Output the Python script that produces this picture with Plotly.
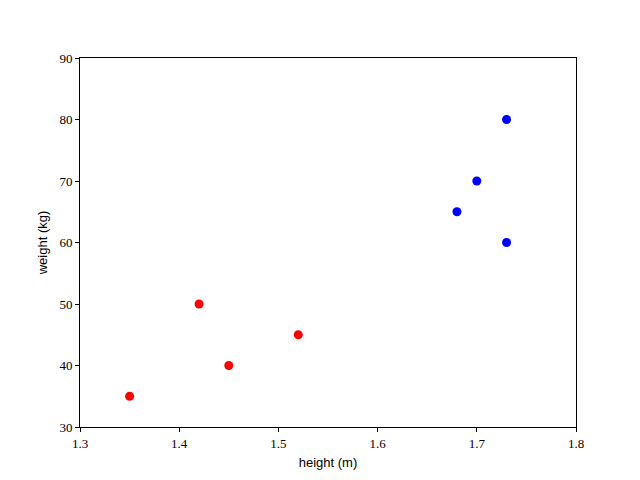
import plotly.graph_objects as go

red_height = [1.35, 1.42, 1.45, 1.52]
red_weight = [35, 50, 40, 45]
blue_height = [1.68, 1.70, 1.73, 1.73]
blue_weight = [65, 70, 80, 60]
x_ticks = [1.3, 1.4, 1.5, 1.6, 1.7, 1.8]
y_ticks = [30, 40, 50, 60, 70, 80, 90]

fig = go.Figure()
fig.add_trace(go.Scatter(x=red_height, y=red_weight, mode="markers",
                         marker=dict(color="red", size=9, line=dict(width=0))))
fig.add_trace(go.Scatter(x=blue_height, y=blue_weight, mode="markers",
                         marker=dict(color="blue", size=9, line=dict(width=0))))

axis_common = dict(showline=True, linecolor="black", linewidth=1, mirror=True,
                   ticks="outside", ticklen=4, tickcolor="black", tickwidth=1,
                   showgrid=False, zeroline=False, automargin=False,
                   tickfont=dict(family="Liberation Serif, DejaVu Serif, serif", size=13, color="black"))

fig.update_xaxes(range=[1.3, 1.8], tickvals=x_ticks, ticktext=[f"{v:.1f}" for v in x_ticks],
                 title=dict(text="height (m)", font=dict(family="Liberation Sans, DejaVu Sans, sans-serif", size=13, color="black"), standoff=8),
                 **axis_common)
fig.update_yaxes(range=[30, 90], tickvals=y_ticks, ticktext=[str(v) for v in y_ticks],
                 title=dict(text="weight (kg)", font=dict(family="Liberation Sans, DejaVu Sans, sans-serif", size=13, color="black"), standoff=8),
                 **axis_common)

# page body has an 8px default margin; compensate so the plot area lands at 80..576 x 58..427
fig.update_layout(width=632, height=472, showlegend=False,
                  margin=dict(l=72, r=64, t=50, b=53),
                  plot_bgcolor="white", paper_bgcolor="white")

fig.write_html("out.html")
